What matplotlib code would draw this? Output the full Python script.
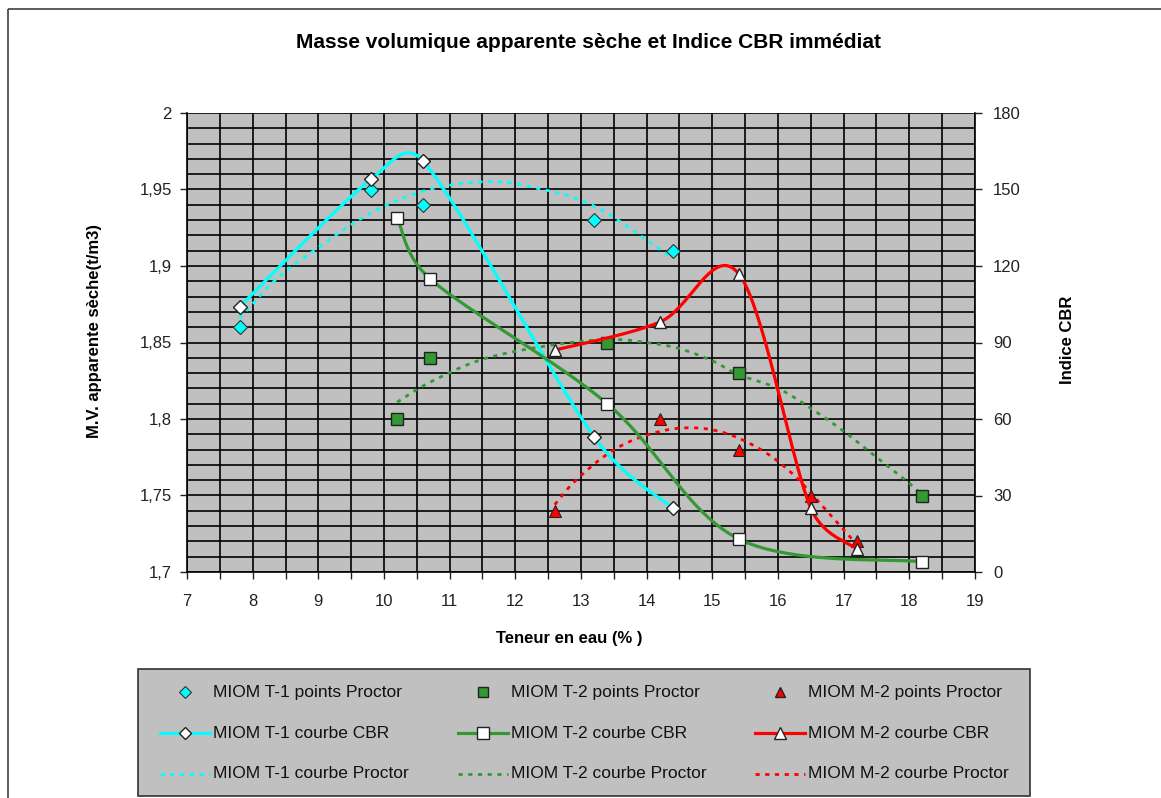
import numpy as np
import matplotlib
matplotlib.use('Agg')
import matplotlib.pyplot as plt
from matplotlib.patches import Rectangle
from matplotlib.ticker import MultipleLocator, FuncFormatter

plt.rcParams['font.family'] = ['Liberation Sans', 'DejaVu Sans']
plt.rcParams['lines.scale_dashes'] = False

# --- data ---
# T-1
water_t1 = [7.8, 9.8, 10.6, 13.2, 14.4]
dens_t1 = [1.86, 1.95, 1.94, 1.93, 1.91]
cbr_t1 = [104, 154, 161, 53, 25]
proc_x_t1 = [7.8, 8.4, 9.0, 9.5, 10.0, 10.6, 11.2, 11.8, 12.3, 12.8, 13.3, 13.7, 14.2, 14.4]
proc_y_t1 = [1.866, 1.893, 1.912, 1.927, 1.939, 1.949, 1.954, 1.955, 1.951, 1.946, 1.937, 1.926, 1.911, 1.905]

# T-2
water_t2 = [10.2, 10.7, 13.4, 15.4, 18.2]
dens_t2 = [1.80, 1.84, 1.85, 1.83, 1.75]
cbr_t2 = [139, 115, 66, 13, 4]
proc_x_t2 = [10.2, 10.7, 11.5, 12.5, 13.4, 14.0, 14.5, 15.0, 15.4, 16.0, 16.5, 17.0, 17.5, 18.0, 18.2]
proc_y_t2 = [1.811, 1.824, 1.839, 1.848, 1.852, 1.850, 1.846, 1.838, 1.829, 1.820, 1.807, 1.792, 1.775, 1.758, 1.750]

# M-2
water_m2 = [12.6, 14.2, 15.4, 16.5, 17.2]
dens_m2 = [1.74, 1.80, 1.78, 1.75, 1.72]
cbr_m2 = [87, 98, 117, 25, 9]
proc_x_m2 = [12.6, 12.9, 13.4, 13.9, 14.5, 15.1, 15.7, 16.2, 16.7, 17.2]
proc_y_m2 = [1.744, 1.759, 1.777, 1.788, 1.794, 1.792, 1.781, 1.765, 1.742, 1.718]

labels = ['MIOM T-1 points Proctor', 'MIOM T-1 courbe CBR', 'MIOM T-1 courbe Proctor',
          'MIOM T-2 points Proctor', 'MIOM T-2 courbe CBR', 'MIOM T-2 courbe Proctor',
          'MIOM M-2 points Proctor', 'MIOM M-2 courbe CBR', 'MIOM M-2 courbe Proctor']

CYAN = '#00FFFF'
GREEN = '#339933'
RED = '#FF0000'

W, H = 1161, 798
AX_L, AX_R, AX_T, AX_B = 187, 975, 113, 572


def smooth(xs, ys, sx, sy, n=40):
    # excel-like smoothed line (bezier through the points), done in pixel space
    P = np.column_stack([np.asarray(xs, float) * sx, np.asarray(ys, float) * sy])
    Q = np.vstack([P[0], P, P[-1]])
    out = []
    t = np.linspace(0, 1, n)[:, None]
    for i in range(1, len(Q) - 2):
        p0, p1, p2, p3 = Q[i - 1], Q[i], Q[i + 1], Q[i + 2]
        seg = np.linalg.norm(p2 - p1)
        d1 = (p2 - p0) / 6.0
        d2 = (p3 - p1) / 6.0
        if np.linalg.norm(d1) > 0.5 * seg:
            d1 = d1 / np.linalg.norm(d1) * 0.5 * seg
        if np.linalg.norm(d2) > 0.5 * seg:
            d2 = d2 / np.linalg.norm(d2) * 0.5 * seg
        c1 = p1 + d1
        c2 = p2 - d2
        b = ((1 - t) ** 3) * p1 + 3 * ((1 - t) ** 2) * t * c1 + 3 * (1 - t) * t ** 2 * c2 + t ** 3 * p2
        out.append(b)
    pts = np.vstack(out)
    return pts[:, 0] / sx, pts[:, 1] / sy


fig = plt.figure(figsize=(W / 100, H / 100), dpi=100)
fig.patch.set_facecolor('white')

# overlay in pixel coords for frame + legend
lax = fig.add_axes([0, 0, 1, 1])
lax.set_xlim(0, W)
lax.set_ylim(H, 0)
lax.axis('off')
lax.add_patch(Rectangle((8, 9), W, H, fill=False, ec='#404040', lw=1.2))

ax = fig.add_axes([AX_L / W, 1 - AX_B / H, (AX_R - AX_L) / W, (AX_B - AX_T) / H])
ax.set_facecolor('#C0C0C0')
ax.set_xlim(7, 19)
ax.set_ylim(1.7, 2.0)
ax.xaxis.set_major_locator(MultipleLocator(1))
ax.xaxis.set_minor_locator(MultipleLocator(0.5))
ax.yaxis.set_major_locator(MultipleLocator(0.05))
ax.yaxis.set_minor_locator(MultipleLocator(0.01))
ax.yaxis.set_major_formatter(FuncFormatter(lambda v, p: ('%g' % round(v, 2)).replace('.', ',')))
ax.grid(which='both', color='black', lw=1.2)
ax.set_axisbelow(True)
ax.tick_params(axis='y', which='major', length=5, width=1, pad=6, labelsize=12, colors='#222222')
ax.tick_params(axis='y', which='minor', length=0)
ax.tick_params(axis='x', which='both', length=5, width=1, pad=11, labelsize=12, colors='#222222')
for s in ['top', 'right']:
    ax.spines[s].set_visible(False)
ax.spines['left'].set_linewidth(1.2)
ax.spines['bottom'].set_linewidth(1.2)

ax2 = ax.twinx()
ax2.set_ylim(0, 180)
ax2.yaxis.set_major_locator(MultipleLocator(30))
ax2.tick_params(axis='y', length=5, width=1, pad=8, labelsize=12, colors='#222222')
for s in ['top', 'left', 'bottom']:
    ax2.spines[s].set_visible(False)
ax2.spines['right'].set_linewidth(1.2)

sx = (AX_R - AX_L) / 12.0
sy_l = (AX_B - AX_T) / 0.3
sy_r = (AX_B - AX_T) / 180.0

dash = (0, (3, 4))

# Proctor curves (dotted)
for px, py, c in [(proc_x_t1, proc_y_t1, CYAN), (proc_x_t2, proc_y_t2, GREEN), (proc_x_m2, proc_y_m2, RED)]:
    xs, ys = smooth(px, py, sx, sy_l)
    ax.plot(xs, ys, color=c, lw=2, ls=dash, zorder=3)

# Proctor points
ax.plot(water_t1, dens_t1, ls='none', marker='D', ms=7, mfc=CYAN, mec='#333333', mew=0.8, zorder=4)
ax.plot(water_t2, dens_t2, ls='none', marker='s', ms=8, mfc=GREEN, mec='#222222', mew=1, zorder=4)
ax.plot(water_m2, dens_m2, ls='none', marker='^', ms=8, mfc=RED, mec='#222222', mew=0.8, zorder=4)

# CBR curves (right axis)
for wx, cy, c, m, ms in [(water_t1, cbr_t1, CYAN, 'D', 7), (water_t2, cbr_t2, GREEN, 's', 9),
                         (water_m2, cbr_m2, RED, '^', 9)]:
    xs, ys = smooth(wx, cy, sx, sy_r)
    ax2.plot(xs, ys, color=c, lw=2.3, zorder=3)
    ax2.plot(wx, cy, ls='none', marker=m, ms=ms, mfc='white', mec='#222222', mew=1, zorder=4)

# titles
fig.text(589 / W, 1 - 43 / H, 'Masse volumique apparente sèche et Indice CBR immédiat',
         ha='center', va='center', fontsize=15, fontweight='bold')
fig.text(95 / W, 1 - 331 / H, 'M.V. apparente sèche(t/m3)', rotation=90,
         ha='center', va='center', fontsize=12, fontweight='bold')
fig.text(1068 / W, 1 - 340 / H, 'Indice CBR', rotation=90,
         ha='center', va='center', fontsize=12, fontweight='bold')
fig.text(569 / W, 1 - 638 / H, 'Teneur en eau (% )',
         ha='center', va='center', fontsize=12, fontweight='bold')

# legend box drawn by hand (3 columns x 3 rows)
lax.add_patch(Rectangle((138, 669), 892, 127, fc='#C0C0C0', ec='#333333', lw=1.2))
col_x = [185, 483, 780]
row_y = [692, 733, 774]
styles = [
    [dict(ls='none', marker='D', ms=6, mfc=CYAN, mec='#333333', mew=0.8),
     dict(color=CYAN, lw=2.3, marker='D', ms=6, mfc='white', mec='#222222'),
     dict(color=CYAN, lw=2, ls=dash)],
    [dict(ls='none', marker='s', ms=7, mfc=GREEN, mec='#222222'),
     dict(color=GREEN, lw=2.3, marker='s', ms=8, mfc='white', mec='#222222'),
     dict(color=GREEN, lw=2, ls=dash)],
    [dict(ls='none', marker='^', ms=7, mfc=RED, mec='#222222'),
     dict(color=RED, lw=2.3, marker='^', ms=8, mfc='white', mec='#222222'),
     dict(color=RED, lw=2, ls=dash)],
]
k = 0
for ci, cx in enumerate(col_x):
    for ri, ry in enumerate(row_y):
        st = styles[ci][ri]
        if st.get('ls') == 'none':
            lax.plot([cx], [ry], **st)
        else:
            mk = st.pop('marker', None)
            lax.plot([cx - 25, cx + 25], [ry, ry], **st)
            if mk:
                lax.plot([cx], [ry], ls='none', marker=mk, ms=st['ms'], mfc='white', mec='#222222')
        lax.text(cx + 28, ry, labels[k], ha='left', va='center', fontsize=12.5, color='#111111')
        k += 1

fig.savefig('out.png', dpi=100)
